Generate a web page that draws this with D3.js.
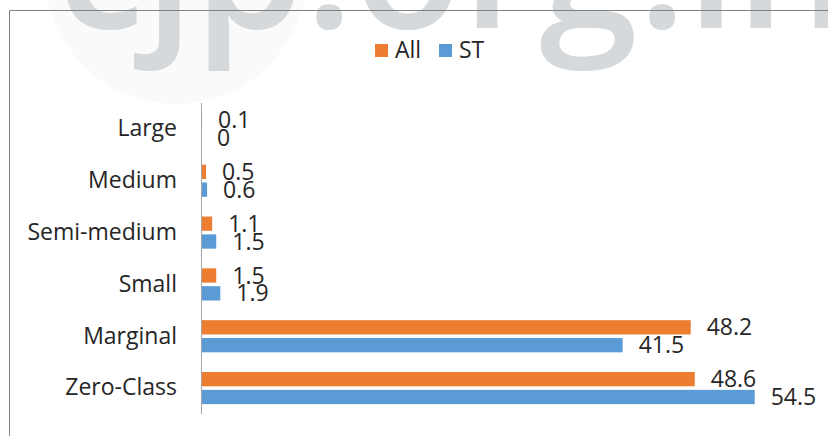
<!DOCTYPE html>
<html>
<head>
<meta charset="utf-8">
<script src="https://cdn.jsdelivr.net/npm/d3@7/dist/d3.min.js"></script>
<style>
  html, body { margin: 0; padding: 0; background: #fff; }
  svg { display: block; }
</style>
</head>
<body>
<svg id="chart" width="828" height="436"></svg>
<script>
// ---- data ----
const categories = ["Large", "Medium", "Semi-medium", "Small", "Marginal", "Zero-Class"];
const seriesNames = ["All", "ST"];
const allValues = [0.1, 0.5, 1.1, 1.5, 48.2, 48.6];
const stValues = [0, 0.6, 1.5, 1.9, 41.5, 54.5];
const seriesColors = ["#ED7D31", "#5B9BD5"];
const watermarkText = "cjp.org.in";

const svg = d3.select("#chart");
const W = 828, H = 436;

// watermark (faint circle + big grey text)
svg.append("circle")
  .attr("cx", 176).attr("cy", -27).attr("r", 131)
  .attr("fill", "#fafafa");
svg.append("text")
  .attr("x", 56).attr("y", 28)
  .attr("font-family", "'Open Sans', sans-serif")
  .attr("font-weight", 600)
  .attr("font-size", 178)
  .attr("fill", "#d6d9db")
  .text(watermarkText);

// chart frame
svg.append("path")
  .attr("d", `M9.5,${H + 2} V10.5 H${W + 2}`)
  .attr("fill", "none")
  .attr("stroke", "#808080")
  .attr("stroke-width", 1);

// scales
const x = d3.scaleLinear().domain([0, 60]).range([201, 201 + 60 * 10.16]);
const y = d3.scaleBand().domain(categories).range([103, 414])
  .paddingInner(0.38).paddingOuter(0.19);
const ySub = d3.scaleBand().domain(seriesNames).range([0, y.bandwidth()])
  .paddingInner(0.2);

const rows = categories.map((c, i) => ({
  cat: c,
  vals: [
    { s: seriesNames[0], v: allValues[i], color: seriesColors[0] },
    { s: seriesNames[1], v: stValues[i], color: seriesColors[1] }
  ]
}));

const g = svg.append("g");

// bars
const rowG = g.selectAll("g.row").data(rows).join("g")
  .attr("class", "row")
  .attr("transform", d => `translate(0,${y(d.cat)})`);

rowG.selectAll("rect").data(d => d.vals).join("rect")
  .attr("x", x(0))
  .attr("y", d => ySub(d.s))
  .attr("width", d => Math.max(0, x(d.v) - x(0)))
  .attr("height", ySub.bandwidth())
  .attr("fill", d => d.color);

// value labels
rowG.selectAll("text.val").data(d => d.vals).join("text")
  .attr("class", "val")
  .attr("x", d => x(d.v) + 16)
  .attr("y", d => ySub(d.s) + ySub.bandwidth() / 2)
  .attr("dy", "0.35em")
  .attr("font-family", "'Open Sans', sans-serif")
  .attr("font-size", 23)
  .attr("fill", "#262626")
  .text(d => d.v);

// vertical axis
const yAxis = d3.axisLeft(y).tickSize(0).tickPadding(24);
const axG = svg.append("g")
  .attr("transform", `translate(${x(0)},0)`)
  .call(yAxis);
axG.select(".domain")
  .attr("stroke", "#a6a6a6")
  .attr("d", `M0.5,${y.range()[0]}V${y.range()[1]}`);
axG.selectAll("text")
  .attr("font-family", "'Open Sans', sans-serif")
  .attr("font-size", 23)
  .attr("fill", "#262626");

// legend
const legend = svg.append("g");
const legendX = [375, 439];
seriesNames.forEach((s, i) => {
  legend.append("rect")
    .attr("x", legendX[i]).attr("y", 44)
    .attr("width", 13).attr("height", 13)
    .attr("fill", seriesColors[i]);
  legend.append("text")
    .attr("x", legendX[i] + 20).attr("y", 58)
    .attr("font-family", "'Open Sans', sans-serif")
    .attr("font-size", 23)
    .attr("fill", "#262626")
    .text(s);
});
</script>
</body>
</html>
